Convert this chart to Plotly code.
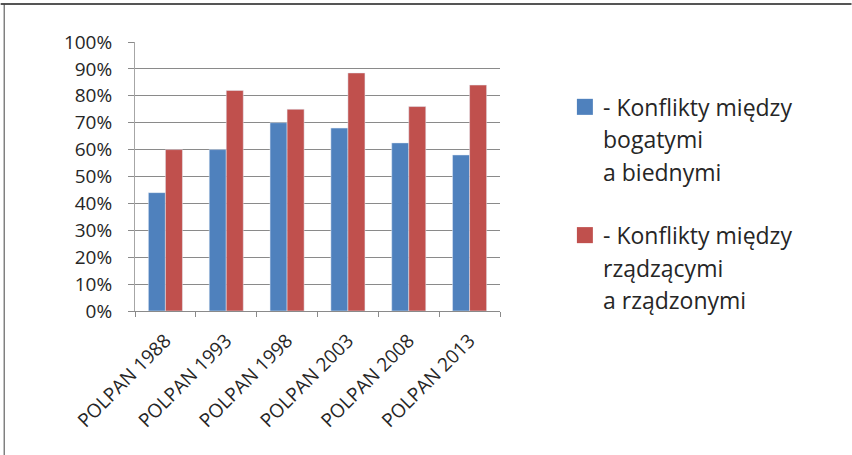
import plotly.graph_objects as go

categories = ["POLPAN 1988", "POLPAN 1993", "POLPAN 1998", "POLPAN 2003", "POLPAN 2008", "POLPAN 2013"]
rich_poor = [0.44, 0.60, 0.70, 0.68, 0.625, 0.58]
rulers_ruled = [0.60, 0.82, 0.75, 0.885, 0.76, 0.84]
series_names = ["- Konflikty między bogatymi a biednymi", "- Konflikty między rządzącymi a rządzonymi"]
legend_lines = [["- Konflikty między", "bogatymi", "a biednymi"],
                ["- Konflikty między", "rządzącymi", "a rządzonymi"]]
tick_vals = [i / 10 for i in range(11)]
tick_text = [f"{i * 10}%" for i in range(11)]

W, H = 852, 455
L, R, T, B = 134.5, 352, 42.3, 144.3
pw, ph = W - L - R, H - T - B

BLUE = "#4F81BD"
RED = "#C0504D"
GRID = "#8a8a8a"
FONT = "Open Sans"

fig = go.Figure()
fig.add_trace(go.Bar(x=categories, y=rich_poor, name=series_names[0], marker_color=BLUE))
fig.add_trace(go.Bar(x=categories, y=rulers_ruled, name=series_names[1], marker_color=RED))

def px_x(p):
    return (p - L) / pw

def px_y(p):
    return 1 - (p - T) / ph

shapes = [
    dict(type="line", xref="paper", yref="paper", x0=px_x(0), x1=px_x(W), y0=px_y(4.5), y1=px_y(4.5),
         line=dict(color="#555555", width=2)),
    dict(type="line", xref="paper", yref="paper", x0=px_x(3.5), x1=px_x(3.5), y0=px_y(4), y1=px_y(H + 5),
         line=dict(color="#444444", width=1)),
]
annotations = []
colors = [BLUE, RED]
starts = [107, 235]
for k in range(2):
    yc = starts[k]
    shapes.append(dict(type="rect", xref="paper", yref="paper",
                       x0=px_x(577), x1=px_x(593), y0=px_y(yc - 8), y1=px_y(yc + 8),
                       fillcolor=colors[k], line=dict(width=0)))
    for j, line in enumerate(legend_lines[k]):
        annotations.append(dict(xref="paper", yref="paper", x=px_x(601), y=px_y(yc + j * 32.5),
                                xanchor="left", yanchor="middle", showarrow=False, text=line,
                                font=dict(family=FONT, size=23, color="#262626")))

fig.update_layout(
    width=W, height=H,
    margin=dict(l=L, r=R, t=T, b=B, pad=0),
    paper_bgcolor="white", plot_bgcolor="white",
    barmode="group", bargap=0.44, bargroupgap=0,
    showlegend=False,
    font=dict(family=FONT, color="#262626"),
    shapes=shapes, annotations=annotations,
)
fig.update_xaxes(
    showline=True, linecolor=GRID, linewidth=1,
    ticks="outside", tickson="boundaries", ticklen=5, tickcolor=GRID,
    tickangle=-45, tickfont=dict(family=FONT, size=19, color="#262626"),
    ticklabelstandoff=10,
    showgrid=False,
)
fig.update_yaxes(
    range=[0, 1], tickvals=tick_vals, ticktext=tick_text,
    showgrid=True, gridcolor=GRID, gridwidth=1,
    showline=True, linecolor="#a6a6a6", linewidth=1,
    ticks="outside", ticklen=6, tickcolor=GRID,
    tickfont=dict(family=FONT, size=19, color="#262626"),
    ticklabelstandoff=12,
    zeroline=False,
)

fig.write_html("out.html", config={"displayModeBar": False},
               post_script="document.body.style.margin='0';")
